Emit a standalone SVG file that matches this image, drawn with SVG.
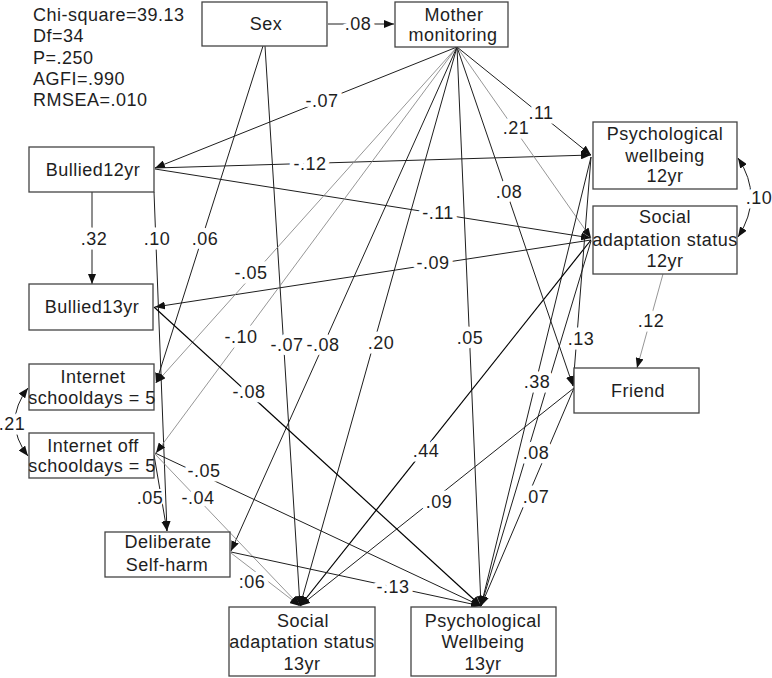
<svg xmlns="http://www.w3.org/2000/svg" width="772" height="678" viewBox="0 0 772 678">
<defs>
<marker id="ah" viewBox="0 0 10 8" refX="10" refY="4" markerWidth="10" markerHeight="8" markerUnits="userSpaceOnUse" orient="auto-start-reverse"><path d="M0,0 L10,4 L0,8 z" fill="#111"/></marker>
</defs>
<style>
.box{fill:#fff;stroke:#444;stroke-width:1.3}
text{font-family:"Liberation Sans",Arial,Helvetica,sans-serif;font-size:18px;fill:#1e1e1e;letter-spacing:0.5px}
.c{text-anchor:middle}
.l{text-anchor:middle;paint-order:stroke;stroke:#fff;stroke-width:9px;stroke-linejoin:round}
.s{stroke-width:4px}
.e{stroke:#1e1e1e;stroke-width:1;fill:none;marker-end:url(#ah)}
.g{stroke:#8a8a8a;stroke-width:0.9}
.k{stroke:#000;stroke-width:1.2}
</style>
<rect width="772" height="678" fill="#fff"/>
<g id="connectors">
<line class="e" x1="328" y1="24" x2="394" y2="24"/>
<line class="e" x1="263" y1="46" x2="156" y2="383"/>
<line class="e" x1="265" y1="46" x2="300" y2="606"/>
<line class="e" x1="457" y1="47" x2="155" y2="168"/>
<line class="e" x1="155" y1="168" x2="591" y2="155"/>
<line class="e" x1="155" y1="169" x2="591" y2="238"/>
<line class="e" x1="591" y1="240" x2="155" y2="307"/>
<line class="e" x1="92" y1="192" x2="92" y2="284"/>
<line class="e" x1="154" y1="192" x2="167" y2="531"/>
<line class="e g" x1="457" y1="47" x2="156" y2="383"/>
<line class="e g" x1="457" y1="47" x2="156" y2="453"/>
<line class="e" x1="457" y1="47" x2="231" y2="551"/>
<line class="e" x1="457" y1="47" x2="300" y2="606"/>
<line class="e" x1="457" y1="47" x2="481" y2="606"/>
<line class="e" x1="457" y1="47" x2="573" y2="386"/>
<line class="e g" x1="457" y1="47" x2="591" y2="238"/>
<line class="e" x1="457" y1="47" x2="591" y2="155"/>
<line class="e" x1="591" y1="157" x2="481" y2="606"/>
<line class="e k" x1="591" y1="240" x2="300" y2="606"/>
<line class="e" x1="591" y1="241" x2="481" y2="606"/>
<line class="e" x1="591" y1="157" x2="573" y2="386"/>
<line class="e g" x1="663" y1="274" x2="637" y2="368"/>
<line class="e" x1="574" y1="388" x2="300" y2="606"/>
<line class="e" x1="574" y1="388" x2="481" y2="606"/>
<line class="e k" x1="154" y1="307" x2="481" y2="606"/>
<line class="e" x1="155" y1="453" x2="481" y2="606"/>
<line class="e g" x1="155" y1="454" x2="300" y2="606"/>
<line class="e" x1="154" y1="455" x2="167" y2="531"/>
<line class="e g" x1="231" y1="553" x2="300" y2="606"/>
<line class="e" x1="231" y1="552" x2="481" y2="606"/>
<path class="e" d="M738,158 Q764,197 738,237" marker-start="url(#ah)"/>
<path class="e" d="M28,388 Q2,422 28,456" marker-start="url(#ah)"/>
</g>
<g id="labels">
<text class="l" x="358" y="30">.08</text>
<text class="l" x="205" y="245">.06</text>
<text class="l" x="287" y="351">-.07</text>
<text class="l" x="322" y="107">-.07</text>
<text class="l" x="310" y="170">-.12</text>
<text class="l" x="438" y="219">-.11</text>
<text class="l" x="433" y="269">-.09</text>
<text class="l" x="94" y="245">.32</text>
<text class="l" x="157" y="245">.10</text>
<text class="l" x="251" y="279">-.05</text>
<text class="l" x="241" y="343">-.10</text>
<text class="l" x="323" y="351">-.08</text>
<text class="l" x="381" y="349">.20</text>
<text class="l" x="470" y="344">.05</text>
<text class="l" x="509" y="198">.08</text>
<text class="l" x="516" y="134">.21</text>
<text class="l" x="541" y="119">.11</text>
<text class="l" x="537" y="388">.38</text>
<text class="l" x="426" y="457">.44</text>
<text class="l" x="536" y="459">.08</text>
<text class="l" x="581" y="345">.13</text>
<text class="l" x="651" y="327">.12</text>
<text class="l" x="439" y="508">.09</text>
<text class="l" x="536" y="503">.07</text>
<text class="l" x="249" y="398">-.08</text>
<text class="l" x="204" y="477">-.05</text>
<text class="l" x="198" y="504">-.04</text>
<text class="l s" x="150" y="504">.05</text>
<text class="l" x="252" y="588">:06</text>
<text class="l" x="393" y="593">-.13</text>
<text class="l" x="759" y="204">.10</text>
<text class="l" x="12" y="430">.21</text>
</g>
<g id="fit">
<text x="33" y="21">Chi-square=39.13</text>
<text x="33" y="42">Df=34</text>
<text x="33" y="63.5">P=.250</text>
<text x="33" y="85">AGFI=.990</text>
<text x="33" y="106">RMSEA=.010</text>
</g>
<g id="sex"><rect class="box" x="202" y="2" width="125" height="44"/><text class="c" x="266" y="30">Sex</text></g>
<g id="mother"><rect class="box" x="395" y="2" width="113" height="45"/><text class="c" x="454" y="21">Mother</text><text class="c" x="453" y="41">monitoring</text></g>
<g id="pw12"><rect class="box" x="593" y="122" width="144" height="67"/><text class="c" x="665" y="140">Psychological</text><text class="c" x="665" y="162">wellbeing</text><text class="c" x="665" y="182">12yr</text></g>
<g id="sa12"><rect class="box" x="593" y="206" width="144" height="68"/><text class="c" x="665" y="223">Social</text><text class="c" x="665" y="246">adaptation status</text><text class="c" x="665" y="267">12yr</text></g>
<g id="bullied12"><rect class="box" x="29" y="147" width="125" height="45"/><text class="c" x="93" y="176">Bullied12yr</text></g>
<g id="bullied13"><rect class="box" x="29" y="284" width="124" height="46"/><text class="c" x="92" y="313">Bullied13yr</text></g>
<g id="internet_school"><rect class="box" x="29" y="364" width="125" height="46"/><text class="c" x="93" y="383">Internet</text><text class="c" x="92" y="404">schooldays = 5</text></g>
<g id="internet_off"><rect class="box" x="29" y="433" width="125" height="45"/><text class="c" x="93" y="452">Internet off</text><text class="c" x="92" y="472">schooldays = 5</text></g>
<g id="friend"><rect class="box" x="574" y="368" width="125" height="45"/><text class="c" x="638" y="397">Friend</text></g>
<g id="dsh"><rect class="box" x="105" y="532" width="125" height="45"/><text class="c" x="168" y="548">Deliberate</text><text class="c" x="167" y="571">Self-harm</text></g>
<g id="sa13"><rect class="box" x="229" y="607" width="146" height="69"/><text class="c" x="303" y="627">Social</text><text class="c" x="302" y="648">adaptation status</text><text class="c" x="302" y="670">13yr</text></g>
<g id="pw13"><rect class="box" x="411" y="607" width="145" height="69"/><text class="c" x="483" y="627">Psychological</text><text class="c" x="483" y="648">Wellbeing</text><text class="c" x="483" y="670">13yr</text></g>
</svg>
